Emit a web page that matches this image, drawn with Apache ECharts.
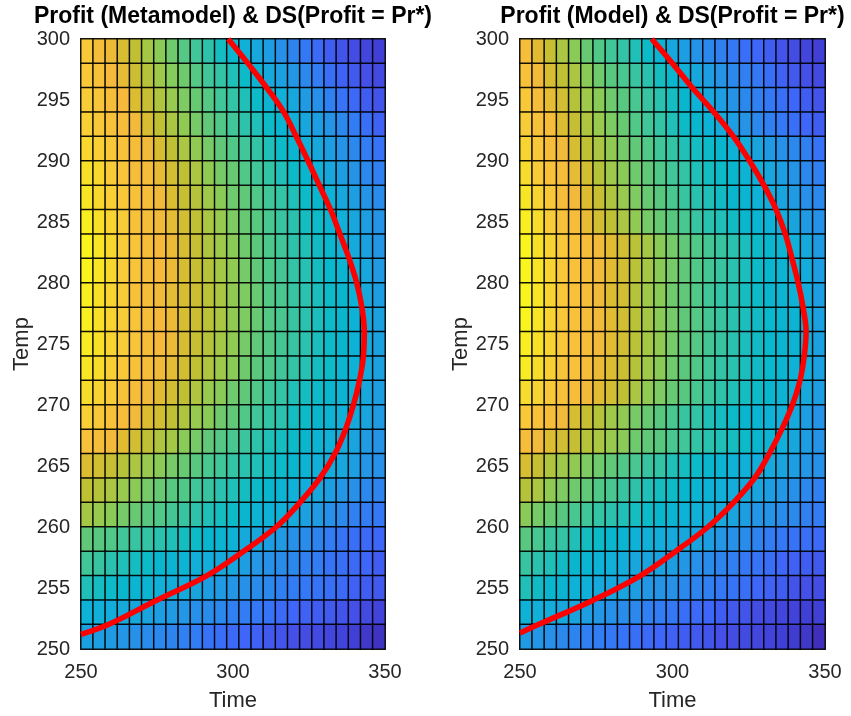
<!DOCTYPE html>
<html>
<head>
<meta charset="utf-8">
<title>Profit (Metamodel) vs Profit (Model)</title>
<script src="https://cdn.jsdelivr.net/npm/echarts@6/dist/echarts.min.js"></script>
<style>
  html, body { margin: 0; padding: 0; background: #fff; }
  #chart { width: 851px; height: 716px; }
</style>
</head>
<body>
<div id="chart"></div>
<script>
// cell corners: Time step 4, Temp step 2
var timeCells = [250,254,258,262,266,270,274,278,282,286,290,294,298,302,306,310,314,318,322,326,330,334,338,342,346];
var tempCells = [250,252,254,256,258,260,262,264,266,268,270,272,274,276,278,280,282,284,286,288,290,292,294,296,298];
var timeTicks = [250, 300, 350];
var tempTicks = [250, 255, 260, 265, 270, 275, 280, 285, 290, 295, 300];

var titles = ['Profit (Metamodel) & DS(Profit = Pr*)', 'Profit (Model) & DS(Profit = Pr*)'];

// profit colour level (0..100), top row (Temp 298) first
var metaRows = [
  [89,86,83,79,75,70,66,62,57,52,48,43,39,35,32,29,25,22,19,16,13,11,9,7,5],
  [89,87,85,82,77,73,69,65,62,57,52,49,45,41,37,33,30,27,23,20,17,14,12,10,8],
  [90,88,86,85,80,76,72,68,64,61,57,52,49,45,41,38,35,32,28,25,21,18,16,13,11],
  [91,89,87,86,84,79,75,71,67,63,60,56,52,48,45,41,38,35,32,29,26,23,20,17,14],
  [93,91,89,87,86,84,79,75,71,67,63,60,56,52,49,45,41,38,35,32,29,26,23,20,18],
  [95,93,90,88,86,86,82,78,75,71,67,63,61,56,52,49,45,41,39,36,32,29,26,23,21],
  [96,93,91,89,87,86,84,80,76,73,69,66,62,60,56,52,49,45,41,39,36,32,29,26,24],
  [98,95,92,90,87,86,84,82,78,75,71,68,64,61,58,54,50,47,43,41,38,35,32,29,26],
  [99,96,93,90,88,86,85,83,79,76,72,69,66,62,59,55,52,48,45,42,39,36,33,30,27],
  [99,96,93,90,88,86,85,83,79,76,73,70,67,63,60,56,53,49,46,43,40,38,35,32,28],
  [98,95,92,90,87,86,84,82,79,77,74,71,67,64,61,57,54,50,47,44,41,39,36,33,29],
  [98,95,92,90,88,86,85,83,79,77,74,71,67,64,61,57,54,50,47,44,41,39,36,33,30],
  [97,95,92,90,88,86,85,83,79,76,73,70,67,63,60,57,53,50,47,44,41,39,36,34,30],
  [96,94,91,89,87,86,84,82,78,75,72,69,66,62,59,56,52,49,46,43,41,38,36,33,30],
  [94,92,90,87,86,84,81,78,75,72,68,66,62,60,56,52,49,45,43,41,39,37,35,32,29],
  [91,89,87,86,84,80,78,75,72,68,66,62,60,56,52,49,47,43,41,39,37,35,33,31,28],
  [87,86,84,81,78,75,72,70,66,63,60,57,54,51,48,45,43,41,39,37,35,33,31,28,26],
  [80,78,76,73,71,68,66,63,61,58,54,52,49,47,45,43,41,39,37,35,34,32,29,27,25],
  [75,73,71,68,66,63,61,58,56,52,50,47,45,43,41,39,37,35,34,32,29,27,25,23,22],
  [70,68,66,63,61,58,56,53,50,48,45,43,41,39,37,36,35,33,30,28,25,23,21,20,19],
  [60,58,56,52,50,49,47,45,43,41,39,38,36,33,32,29,28,25,24,22,20,18,17,16,15],
  [52,50,47,45,43,41,39,38,37,35,34,33,32,29,27,25,24,23,21,20,18,17,16,15,13],
  [45,43,41,39,38,37,35,34,33,31,29,28,27,25,24,23,21,20,19,18,17,16,14,13,12],
  [36,35,34,33,32,31,29,28,27,25,24,23,21,20,19,18,16,15,14,13,12,11,10,8,6],
  [30,29,28,27,25,24,23,22,21,20,18,17,16,15,14,12,11,10,9,8,7,6,5,3,2]
];
var modelRows = [
  [86,81,76,71,66,61,56,52,49,45,41,37,32,29,26,23,21,19,17,15,13,11,9,7,5],
  [87,84,79,75,71,66,62,58,54,50,47,43,39,35,32,29,26,23,21,19,17,14,12,10,8],
  [89,86,82,78,73,69,66,62,58,54,50,47,43,39,36,32,29,26,23,21,19,17,15,13,11],
  [90,87,86,80,76,72,68,64,61,56,52,49,45,41,39,36,33,29,26,23,21,19,17,15,13],
  [92,89,86,84,79,75,71,67,63,60,56,52,49,45,43,41,39,36,34,31,28,25,23,21,18],
  [94,90,87,86,82,78,73,69,66,62,60,56,52,49,45,43,41,39,37,35,32,29,26,23,21],
  [96,92,89,86,84,80,76,72,68,64,61,58,54,50,47,45,42,39,38,36,34,31,28,25,23],
  [98,94,90,87,86,82,78,75,71,67,63,61,58,54,50,47,45,42,39,38,36,34,31,28,25],
  [99,95,92,89,87,86,84,81,78,74,70,66,63,60,56,53,50,47,44,41,39,37,35,33,28],
  [99,96,92,89,87,86,84,81,78,74,70,66,63,60,56,53,50,47,44,41,39,37,36,34,29],
  [99,96,92,89,87,86,84,80,78,73,69,66,62,60,56,52,49,47,43,41,39,38,36,34,29],
  [99,96,92,89,87,86,84,81,78,74,70,66,63,60,57,53,50,47,44,42,40,38,37,35,30],
  [98,95,92,89,87,86,84,81,78,74,70,67,63,60,57,53,50,47,44,42,40,38,37,35,30],
  [97,94,91,88,87,86,83,80,77,73,69,66,62,59,56,52,49,47,44,42,40,38,36,34,30],
  [94,92,89,87,86,84,81,78,75,71,67,64,61,58,54,51,48,45,43,41,39,37,35,33,29],
  [89,87,86,84,79,76,73,69,67,63,61,58,54,50,49,45,43,41,39,38,36,35,33,29,26],
  [86,84,80,78,76,73,71,68,66,62,60,58,54,52,49,47,45,43,41,39,37,35,32,29,26],
  [79,76,72,69,67,64,62,60,56,54,50,49,45,43,41,39,38,36,35,34,33,31,29,27,25],
  [73,71,67,64,62,60,56,54,50,48,45,43,41,39,38,36,35,34,33,31,29,27,25,23,21],
  [66,63,61,58,54,52,49,47,45,43,41,39,38,36,35,34,33,31,29,27,26,24,23,21,20],
  [58,54,50,49,45,43,41,39,38,36,35,34,33,32,31,29,27,25,24,22,20,19,18,17,16],
  [50,47,45,42,39,38,36,35,34,32,31,30,29,27,25,24,22,21,19,18,17,15,14,13,12],
  [45,42,39,38,36,35,33,32,31,29,27,26,25,23,22,21,19,18,17,15,14,13,11,10,9],
  [36,35,34,32,31,29,27,25,24,23,21,20,19,17,16,15,13,12,11,9,8,7,6,5,5],
  [28,27,25,23,22,21,20,19,18,17,16,15,14,13,12,11,10,9,8,7,6,5,4,3,1]
];

// DS contour (Profit = Pr*)
var metaCurveTime  = [250.0,259.0,274.9,291.3,303.4,314.2,322.0,328.6,333.5,337.0,339.6,341.6,342.9,343.2,342.4,340.7,338.2,335.2,332.1,328.4,324.7,320.8,316.7,311.1,304.9,298.4];
var metaCurveTemp  = [251.2,252,254,256,258,260,262,264,266,268,270,272,274,276,278,280,282,284,286,288,290,292,294,296,298,300];
var modelCurveTime = [250.0,256.0,274.0,289.4,301.0,311.6,320.0,326.9,331.7,335.8,339.3,341.8,343.2,343.8,342.8,341.2,339.2,337.0,334.0,330.0,325.3,320.0,313.6,306.5,300.0,293.2];
var modelCurveTemp = [251.3,252,254,256,258,260,262,264,266,268,270,272,274,276,278,280,282,284,286,288,290,292,294,296,298,300];

var parula = ['#3e2bb4','#4140d6','#4450e8','#3e66f8','#327cf4','#2790e8','#1ca1e0',
              '#10b0d8','#08b8cc','#20c0b8','#38c4a0','#4cc88c','#60c878','#84cc5c',
              '#a4c846','#c0c034','#dcbc30','#f6b93c','#f8cc38','#f8e028','#f9f81c'];

var FONT = 'Liberation Sans, Arial, Helvetica, sans-serif';

function cells(rows) {
  var out = [];
  for (var k = 0; k < rows.length; k++) {
    for (var c = 0; c < rows[k].length; c++) {
      out.push([c, rows.length - 1 - k, rows[k][c]]);
    }
  }
  return out;
}
function pairs(xs, ys) {
  var out = [];
  for (var i = 0; i < xs.length; i++) out.push([xs[i], ys[i]]);
  return out;
}

var panels = [
  {left: 81, width: 304, rows: metaRows, cx: metaCurveTime, cy: metaCurveTemp},
  {left: 520, width: 305, rows: modelRows, cx: modelCurveTime, cy: modelCurveTemp}
];

var grid = [], xAxis = [], yAxis = [], series = [], title = [];
panels.forEach(function (p, i) {
  grid.push({left: p.left, top: 39, width: p.width, height: 610, outerBoundsMode: 'none', containLabel: false,
    show: true, borderColor: '#9a9a9a', borderWidth: 1, backgroundColor: 'transparent'});
  title.push({text: titles[i], left: p.left + p.width / 2, top: 5, textAlign: 'center', padding: 0,
    textStyle: {fontFamily: FONT, fontSize: 23, fontWeight: 'bold', color: '#000'}});
  // hidden band axes for the cells
  xAxis.push({type: 'category', gridIndex: i, position: 'top', data: timeCells.map(String), show: false});
  yAxis.push({type: 'category', gridIndex: i, position: 'right', data: tempCells.map(String), show: false});
  // value axes for labels and the contour
  xAxis.push({type: 'value', gridIndex: i, position: 'bottom',
    min: timeTicks[0], max: timeTicks[timeTicks.length - 1], interval: 50,
    name: 'Time', nameLocation: 'middle', nameGap: 41,
    nameTextStyle: {fontFamily: FONT, fontSize: 22, color: '#262626'},
    axisLine: {show: false}, axisTick: {show: false}, splitLine: {show: false},
    axisLabel: {fontFamily: FONT, fontSize: 20, color: '#262626', margin: 13}});
  yAxis.push({type: 'value', gridIndex: i, position: 'left',
    min: tempTicks[0], max: tempTicks[tempTicks.length - 1], interval: 5,
    name: 'Temp', nameLocation: 'middle', nameGap: 47, nameRotate: 90,
    nameTextStyle: {fontFamily: FONT, fontSize: 22, color: '#262626'},
    axisLine: {show: false}, axisTick: {show: false}, splitLine: {show: false},
    axisLabel: {fontFamily: FONT, fontSize: 20, color: '#262626', margin: 11}});

  series.push({
    type: 'heatmap', xAxisIndex: 2 * i, yAxisIndex: 2 * i,
    data: cells(p.rows),
    itemStyle: {borderColor: 'rgba(0,0,0,0.9)', borderWidth: 1.5},
    emphasis: {disabled: true}
  });
  series.push({
    type: 'line', xAxisIndex: 2 * i + 1, yAxisIndex: 2 * i + 1,
    data: pairs(p.cx, p.cy), smooth: 0.4, showSymbol: false, symbol: 'none', z: 5,
    lineStyle: {color: '#ff0000', width: 5.5}
  });
});

var chart = echarts.init(document.getElementById('chart'), null, {renderer: 'canvas'});
chart.setOption({
  animation: false,
  backgroundColor: '#fff',
  textStyle: {fontFamily: FONT},
  title: title,
  grid: grid,
  xAxis: xAxis,
  yAxis: yAxis,
  visualMap: {type: 'continuous', show: false, min: 0, max: 100, seriesIndex: [0, 2],
    inRange: {color: parula}},
  series: series
});
</script>
</body>
</html>
